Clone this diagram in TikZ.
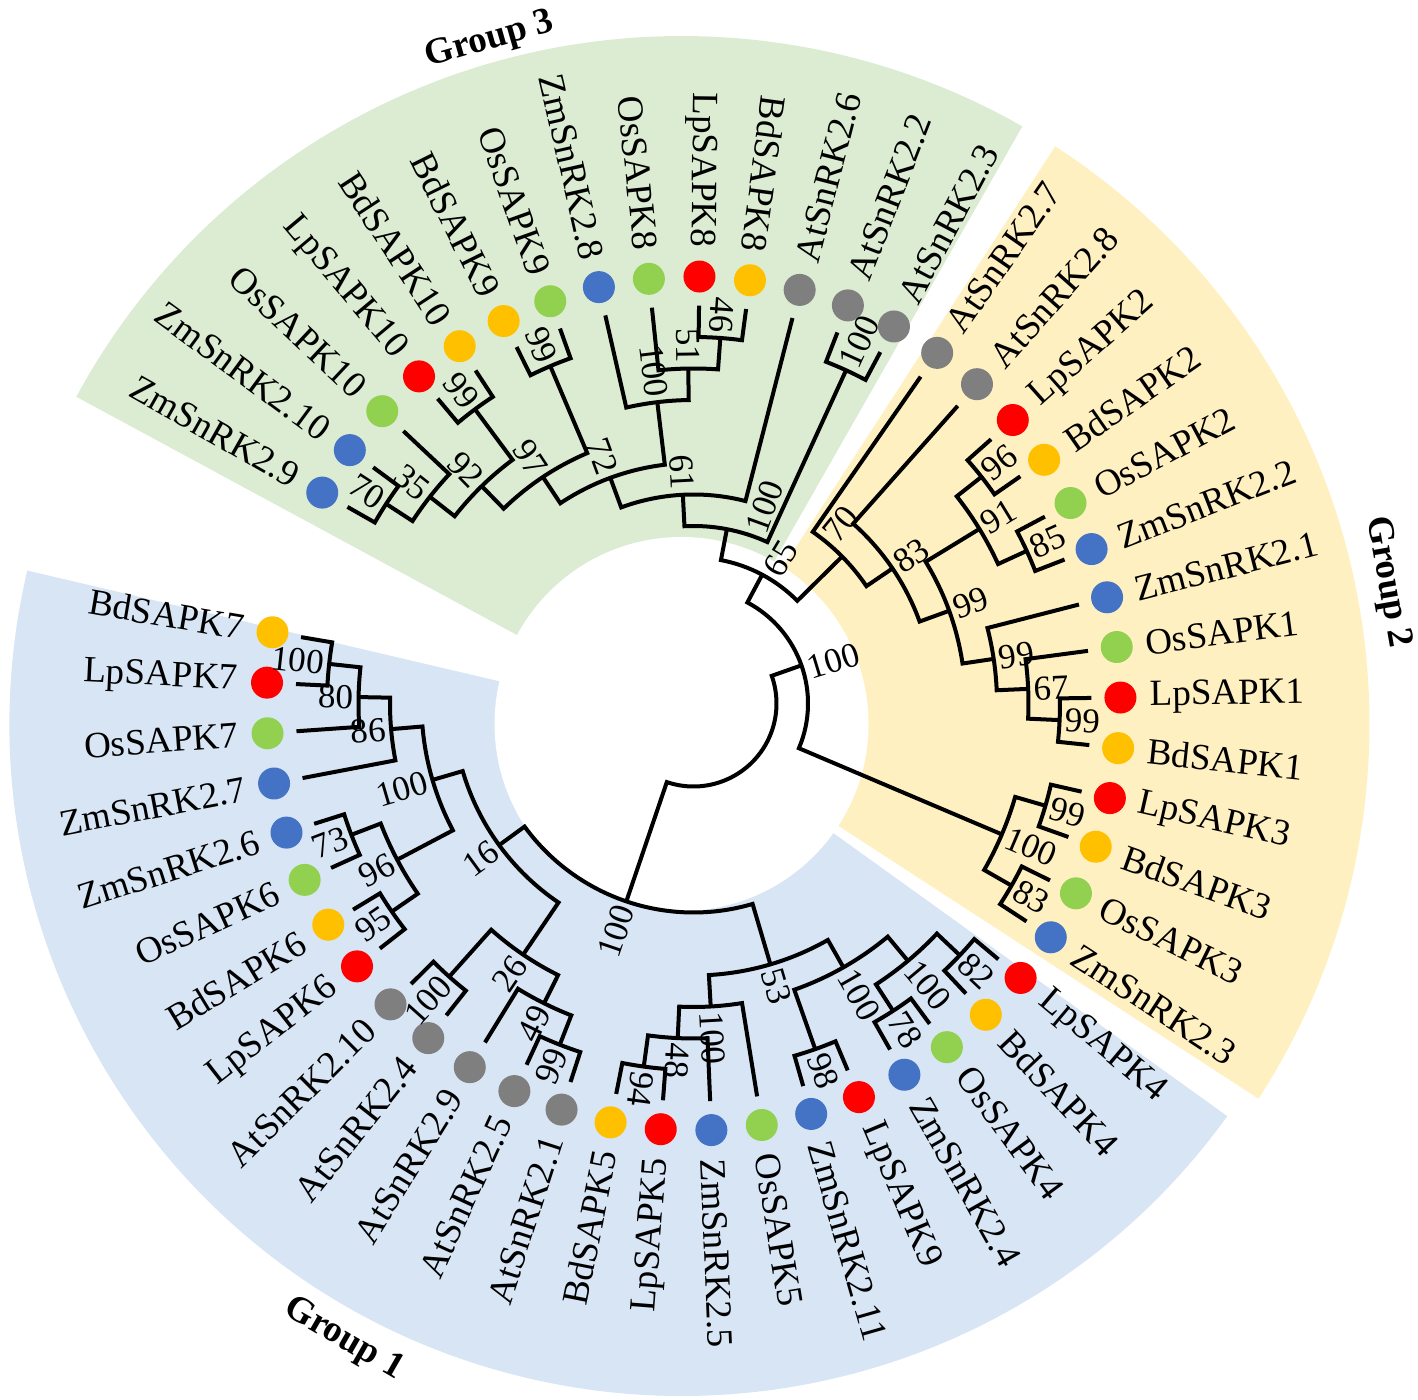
\documentclass[tikz,border=0pt]{standalone}
\usepackage{fontspec}
\setmainfont{Liberation Serif}

\definecolor{bdcol}{HTML}{FFC000}
\definecolor{lpcol}{HTML}{FF0000}
\definecolor{oscol}{HTML}{92D050}
\definecolor{zmcol}{HTML}{4472C4}
\definecolor{atcol}{HTML}{7F7F7F}
\definecolor{grpone}{HTML}{D7E5F4}
\definecolor{grptwo}{HTML}{FFF0C2}
\definecolor{grpthree}{HTML}{DBECD2}

% layout of the circular tree (picture units)
\def\astart{170.4}
\def\astep{6.8}
\def\rtip{398}
\def\rstep{31.5}

% \clade{name}{child 1}{child 2}{level}{bootstrap}{label shift}
\newcommand{\clade}[6]{%
  \edef\aone{\csname ang@#2\endcsname}%
  \edef\atwo{\csname ang@#3\endcsname}%
  \pgfmathsetmacro{\amid}{(\aone+\atwo)/2}%
  \pgfmathsetmacro{\crad}{\rtip-\rstep*#4}%
  \expandafter\xdef\csname ang@#1\endcsname{\amid}%
  \coordinate (#1) at (\amid:\crad);
  \draw[branch] (#2) -- (\aone:\crad)
     arc[start angle=\aone, end angle=\atwo, radius=\crad] -- (#3);
  \if\relax\detokenize{#5}\relax\else
    \pgfmathsetmacro{\alab}{\amid+(#6)}%
    \pgfmathsetmacro{\amod}{mod(\alab,360)}%
    \pgfmathsetmacro{\rlab}{\crad+5}%
    \def\banc{west}\pgfmathsetmacro{\brot}{\alab}%
    \ifdim\amod pt>82pt\relax\ifdim\amod pt<255pt\relax
      \def\banc{east}\pgfmathsetmacro{\brot}{\alab+180}%
    \fi\fi
    \node[boot, anchor=\banc, rotate=\brot] (#1b) at (\alab:\rlab) {#5};
  \fi}

\begin{document}
\begin{tikzpicture}[x=0.5pt, y=0.5pt,
    branch/.style={line width=2pt},
    dot/.style={circle, inner sep=0pt, minimum size=16pt},
    leaf/.style={inner sep=0pt, font=\fontsize{18.5}{22}\selectfont},
    boot/.style={inner sep=0pt, font=\fontsize{17.5}{21}\selectfont},
    grouplabel/.style={inner sep=0pt, font=\bfseries\fontsize{18.5}{22}\selectfont}]
  \useasboundingbox (-693.5,-696.5) rectangle (724.5,703.5);

  % coloured groups behind the tree
  \coordinate (bg) at (-12,-20.5);
  \fill[grpone]   (bg) -- ++(166.8:672) arc[start angle=166.8, end angle=324.3, radius=672] -- cycle;
  \fill[grptwo]   (bg) -- ++(-33:688) arc[start angle=-33, end angle=57.1, radius=688] -- cycle;
  \fill[grpthree] (bg) -- ++(60.3:688) arc[start angle=60.3, end angle=151.6, radius=688] -- cycle;
  \fill[white] (bg) circle[radius=187];

  % leaves: tip, coloured dot and name
  \foreach \i/\lname/\sp in {0/BdSAPK7/bdcol, 1/LpSAPK7/lpcol, 2/OsSAPK7/oscol,
      3/ZmSnRK2.7/zmcol, 4/ZmSnRK2.6/zmcol, 5/OsSAPK6/oscol, 6/BdSAPK6/bdcol,
      7/LpSAPK6/lpcol, 8/AtSnRK2.10/atcol, 9/AtSnRK2.4/atcol, 10/AtSnRK2.9/atcol,
      11/AtSnRK2.5/atcol, 12/AtSnRK2.1/atcol, 13/BdSAPK5/bdcol, 14/LpSAPK5/lpcol,
      15/ZmSnRK2.5/zmcol, 16/OsSAPK5/oscol, 17/ZmSnRK2.11/zmcol, 18/LpSAPK9/lpcol,
      19/ZmSnRK2.4/zmcol, 20/OsSAPK4/oscol, 21/BdSAPK4/bdcol, 22/LpSAPK4/lpcol,
      23/ZmSnRK2.3/zmcol, 24/OsSAPK3/oscol, 25/BdSAPK3/bdcol, 26/LpSAPK3/lpcol,
      27/BdSAPK1/bdcol, 28/LpSAPK1/lpcol, 29/OsSAPK1/oscol, 30/ZmSnRK2.1/zmcol,
      31/ZmSnRK2.2/zmcol, 32/OsSAPK2/oscol, 33/BdSAPK2/bdcol, 34/LpSAPK2/lpcol,
      35/AtSnRK2.8/atcol, 36/AtSnRK2.7/atcol, 37/AtSnRK2.3/atcol, 38/AtSnRK2.2/atcol,
      39/AtSnRK2.6/atcol, 40/BdSAPK8/bdcol, 41/LpSAPK8/lpcol, 42/OsSAPK8/oscol,
      43/ZmSnRK2.8/zmcol, 44/OsSAPK9/oscol, 45/BdSAPK9/bdcol, 46/BdSAPK10/bdcol,
      47/LpSAPK10/lpcol, 48/OsSAPK10/oscol, 49/ZmSnRK2.10/zmcol, 50/ZmSnRK2.9/zmcol}{
    \pgfmathsetmacro{\ang}{\astart+\astep*\i}
    \expandafter\xdef\csname ang@t\i\endcsname{\ang}
    \coordinate (t\i) at (\ang:\rtip);
    \node[dot, fill=\sp] (d\i) at (\ang:427) {};
    \def\anc{east}\pgfmathsetmacro{\rot}{\ang+180}
    \ifnum\i>14 \ifnum\i<40 \def\anc{west}\pgfmathsetmacro{\rot}{\ang}\fi\fi
    \node[leaf, anchor=\anc, rotate=\rot] (n\i) at (\ang:456) {\lname};
  }

  % Group 1
  \clade{g1a}{t0}{t1}{1}{100}{0}
  \clade{g1b}{g1a}{t2}{2}{80}{0}
  \clade{g1c}{g1b}{t3}{3}{86}{0}
  \clade{g1d}{t4}{t5}{1}{73}{0}
  \clade{g1e}{t6}{t7}{1}{95}{0}
  \clade{g1f}{g1d}{g1e}{2}{96}{0}
  \clade{g1g}{g1c}{g1f}{4}{100}{0}
  \clade{g1h}{t8}{t9}{1}{100}{0}
  \clade{g1i}{t11}{t12}{1}{99}{0}
  \clade{g1j}{t10}{g1i}{2}{49}{0}
  \clade{g1k}{g1h}{g1j}{3}{26}{0}
  \clade{g1l}{g1g}{g1k}{5}{16}{0}
  \clade{g1m}{t13}{t14}{1}{94}{0}
  \clade{g1n}{g1m}{t15}{2}{48}{0}
  \clade{g1o}{g1n}{t16}{3}{100}{0}
  \clade{g1p}{t17}{t18}{1}{98}{0}
  \clade{g1q}{t19}{t20}{1}{78}{0}
  \clade{g1r}{t21}{t22}{1}{82}{0}
  \clade{g1s}{g1q}{g1r}{2}{100}{0}
  \clade{g1t}{g1p}{g1s}{3}{100}{0}
  \clade{g1u}{g1o}{g1t}{4}{53}{0}
  \clade{gone}{g1l}{g1u}{6}{100}{0}

  % Group 2
  \clade{g2a}{t25}{t26}{1}{99}{0}
  \clade{g2b}{t23}{t24}{1}{83}{0}
  \clade{g2c}{g2b}{g2a}{2}{100}{0}
  \clade{g2d}{t27}{t28}{1}{99}{0}
  \clade{g2e}{g2d}{t29}{2}{67}{0}
  \clade{g2f}{g2e}{t30}{3}{99}{0}
  \clade{g2g}{t31}{t32}{1}{85}{0}
  \clade{g2h}{t33}{t34}{1}{96}{0}
  \clade{g2i}{g2g}{g2h}{2}{91}{0}
  \clade{g2j}{g2f}{g2i}{4}{99}{0}
  \clade{g2k}{g2j}{t35}{5}{83}{0}
  \clade{g2l}{g2k}{t36}{6}{70}{6}

  % Group 3
  \clade{g3a}{t37}{t38}{1}{100}{0}
  \clade{g3b}{t40}{t41}{1}{46}{0}
  \clade{g3c}{t42}{g3b}{2}{51}{0}
  \clade{g3d}{g3c}{t43}{3}{100}{0}
  \clade{g3e}{t44}{t45}{1}{99}{0}
  \clade{g3f}{t46}{t47}{1}{99}{0}
  \clade{g3g}{t49}{t50}{1}{70}{0}
  \clade{g3h}{t48}{g3g}{2}{35}{0}
  \clade{g3i}{g3f}{g3h}{3}{92}{0}
  \clade{g3j}{g3e}{g3i}{4}{97}{0}
  \clade{g3k}{g3d}{g3j}{5}{72}{0}
  \clade{g3l}{t39}{g3k}{6}{61}{0}
  \clade{g3m}{g3a}{g3l}{7}{100}{-9}

  % deep nodes and root
  \clade{nA}{g2l}{g3m}{8}{65}{-3}
  \clade{nB}{g2c}{nA}{9}{100}{-2.5}
  \clade{root}{gone}{nB}{10}{}{0}

  % group names
  \node[grouplabel, rotate=-30] (grp1) at (-350,-636) {Group 1};
  \node[grouplabel, rotate=-80] (grp2) at (694,121) {Group 2};
  \node[grouplabel, rotate=16]  (grp3) at (-203.5,663) {Group 3};
\end{tikzpicture}
\end{document}
